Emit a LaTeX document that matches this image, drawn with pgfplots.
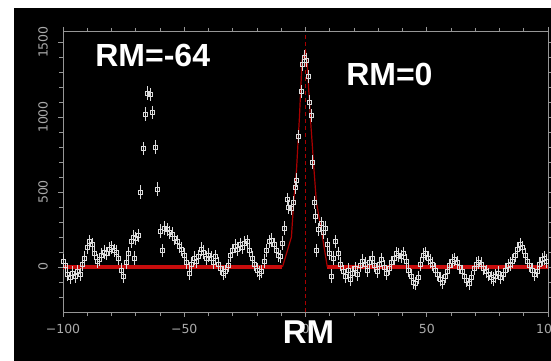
\documentclass[border=0pt]{standalone}
\usepackage{pgfplots}
\pgfplotsset{compat=1.18}
\usepackage{fontspec}
\setmainfont{DejaVu Sans}
\newfontfamily\lib{Liberation Sans}
\definecolor{axgray}{RGB}{150,150,150}
\definecolor{txtgray}{RGB}{170,170,170}
\definecolor{ptgray}{RGB}{220,220,220}
\definecolor{fitred}{RGB}{200,12,12}
\definecolor{peakred}{RGB}{170,0,0}
\pgfplotstableread{
x y
-100 40
-99 10
-98 -50
-97 -70
-96 -40
-95 -60
-94 -30
-93 -50
-92 20
-91 60
-90 130
-89 170
-88 150
-87 90
-86 40
-85 50
-84 80
-83 100
-82 90
-81 120
-80 130
-79 110
-78 100
-77 60
-76 -20
-75 -60
-74 30
-73 90
-72 170
-71 200
-70.5 60
-70 190
-69 210
-68 500
-67 790
-66 1020
-65 1160
-64 1150
-63 1030
-62 800
-61 520
-60 240
-59 110
-58 260
-57 250
-56 230
-55 220
-54 190
-53 170
-52 140
-51 120
-50 80
-49 30
-48 -40
-47 20
-46 60
-45 40
-44 70
-43 120
-42 100
-41 60
-40 80
-39 60
-38 30
-37 70
-36 20
-35 -10
-34 -40
-33 -30
-32 10
-31 80
-30 110
-29 140
-28 120
-27 150
-26 130
-25 160
-24 170
-23 110
-22 60
-21 20
-20 -20
-19 -40
-18 -30
-17 40
-16 110
-15 170
-14 180
-13 150
-12 110
-11 80
-10.5 70
-9.5 160
-8.6 260
-7.6 450
-7 400
-6 390
-5 430
-4.2 530
-3.6 580
-2.8 870
-1.8 1170
-1.1 1350
-0.3 1400
0.4 1380
1 1270
1.8 1100
2.5 1010
3 700
3.5 430
4 340
4.6 110
5.5 250
6.5 290
7.3 230
8.2 260
9 150
9.8 90
10.7 -60
11.6 60
12.5 170
13.5 90
14.5 20
15.5 -30
16.5 -60
17.5 -20
18.5 -80
19.5 -40
20.5 -10
21.5 -50
22.5 10
23.5 40
24.5 20
25.5 -20
26.5 30
27.5 60
28.5 10
29.5 -30
30.5 20
31.5 50
32.5 0
33.5 -40
34.5 -10
35.5 30
36.5 60
37.5 90
38.5 80
39.5 70
40.5 90
41.5 40
42.5 -20
43.5 -60
44.5 -100
45.5 -110
46.5 -70
47.5 20
48.5 80
49.5 90
50.5 60
51.5 40
52.5 20
53.5 -20
54.5 -50
55.5 -80
56.5 -100
57.5 -60
58.5 -30
59.5 10
60.5 40
61.5 50
62.5 30
63.5 0
64.5 -30
65.5 -60
66.5 -90
67.5 -110
68.5 -70
69.5 -10
70.5 20
71.5 30
72.5 20
73.5 -10
74.5 -30
75.5 -50
76.5 -70
77.5 -80
78.5 -60
79.5 -40
80.5 -70
81.5 -50
82.5 -20
83.5 10
84.5 20
85.5 40
86.5 80
87.5 120
88.5 150
89.5 130
90.5 80
91.5 40
92.5 10
93.5 -20
94.5 -50
95.5 -30
96.5 20
97.5 50
98.5 60
99.5 40
}\datatable
\begin{document}
\begin{tikzpicture}[x=1pt,y=1pt]
\useasboundingbox (0,0) rectangle (551,361);
\clip (0,0) rectangle (551,361);
\fill[white] (0,0) rectangle (551,361);
\fill[black] (14,0) rectangle (551,353);
\begin{axis}[
  at={(63pt,49pt)}, anchor=south west,
  scale only axis, width=485pt, height=280pt,
  xmin=-100, xmax=100, ymin=-300, ymax=1567,
  clip=false,
  axis line style={axgray, line width=1pt},
  tick style={axgray, line width=0.8pt},
  tick align=outside,
  major tick length=5pt, minor tick length=4pt,
  xtick={-100,-50,0,50,100},
  xticklabels={−100,−50,0,50,100},
  minor xtick={-90,-80,-70,-60,-40,-30,-20,-10,10,20,30,40,60,70,80,90},
  ytick={0,500,1000,1500},
  yticklabels={0,500,1000,1500},
  minor ytick={-200,-100,100,200,300,400,600,700,800,900,1100,1200,1300,1400},
  ticklabel style={font=\fontsize{12.5}{12.5}\selectfont, text=txtgray},
  xticklabel style={yshift=-4pt},
  yticklabel style={rotate=90, anchor=south, inner ysep=10pt},
  xlabel={Rotation Measure},
  ylabel={Polarised Flux},
  label style={font=\fontsize{12}{12}\selectfont, text=txtgray},
  every axis x label/.style={at={(axis description cs:0.5,-0.146)}, anchor=center},
  every axis y label/.style={at={(axis description cs:-0.074,0.5)}, anchor=center, rotate=90},
]
\addplot[fitred, line width=3.5pt] coordinates {(-100,0) (-9.5,0)};
\addplot[fitred, line width=3.5pt] coordinates {(9,0) (100,0)};
\addplot[peakred, line width=1.2pt] coordinates {
(-9.5,0) (-5.8,200) (-4.9,430) (-3.7,650) (-2.5,1000) (-1.4,1380) (0,1440) (0.6,1380) (2,1000) (3.5,650) (4.5,430) (7,200) (9,0)};
\addplot[peakred, line width=1.2pt, dash pattern=on 4pt off 3pt] coordinates {(0,-300) (0,1567)};
\addplot[only marks, mark=square, mark size=2pt,
  mark options={draw=ptgray, line width=0.8pt},
  error bars/.cd, y dir=both, y fixed=45,
  error mark=none, error bar style={ptgray, line width=0.8pt}]
  table[x=x, y=y] {\datatable};
\node[text=white, font=\lib\bfseries\fontsize{32}{32}\selectfont] at (axis cs:-63,1413) {RM=-64};
\node[text=white, font=\lib\bfseries\fontsize{32}{32}\selectfont] at (axis cs:34.6,1287) {RM=0};
\node[text=white, font=\lib\bfseries\fontsize{33}{33}\selectfont, anchor=base] at (axis cs:1.2,-513) {RM};
\end{axis}
\end{tikzpicture}
\end{document}
